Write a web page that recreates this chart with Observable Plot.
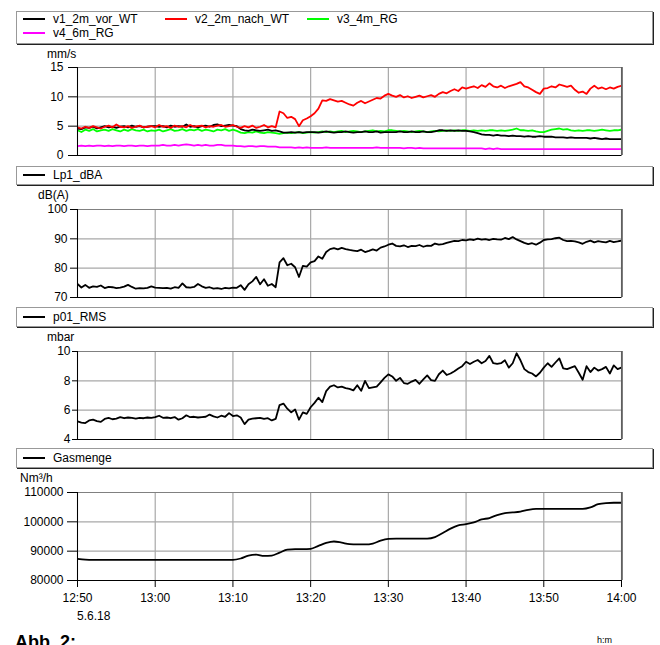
<!DOCTYPE html>
<html><head><meta charset="utf-8">
<script src="https://cdn.jsdelivr.net/npm/d3@7"></script>
<script src="https://cdn.jsdelivr.net/npm/@observablehq/plot@0.6"></script>
<style>
body{margin:0;background:#fff;}
#c{position:relative;width:660px;height:645px;overflow:hidden;font-family:"Liberation Sans",Arial,sans-serif;font-size:12px;color:#000;background:#fff;}
.t{position:absolute;line-height:1;white-space:nowrap;}
.box{position:absolute;left:16px;width:637px;border:1px solid #999;box-shadow:1px 1px 0 #222;box-sizing:border-box;background:#fff;}
.sw{position:absolute;width:22px;height:2px;}
.p{position:absolute;left:0;}
</style></head><body><div id="c"></div><script>
// ---- data ----
const xTicks = [0,10,20,30,40,50,60,70];            // minutes after 12:50
const xTickLabels = ["12:50","13:00","13:10","13:20","13:30","13:40","13:50","14:00"];
const dateLabel = "5.6.18";
const sampleStep = 0.5;   // minutes between samples of the measured series
const gasStep = 1;

const seriesNames = ["v1_2m_vor_WT","v2_2m_nach_WT","v3_4m_RG","v4_6m_RG"];
const seriesColors = ["#000000","#ff0000","#00ff00","#ff00ff"];

const v1 = [4.6,
 4.5,4.8,4.7,4.9,4.6,4.8,5.0,4.8,4.9,4.7,4.9,5.0,4.8,5.1,4.9,5.0,4.8,4.9,5.0,5.0,
 4.9,5.0,4.8,5.1,4.9,5.0,4.9,5.3,4.9,5.0,4.8,5.0,5.1,4.9,5.2,5.3,5.0,5.1,5.2,5.1,
 5.0,4.5,4.3,4.2,4.4,4.3,4.2,4.3,4.4,4.2,4.3,4.1,3.9,3.9,4.0,3.9,4.0,3.9,4.0,4.0,
 4.0,3.9,4.0,4.1,4.0,3.9,4.0,4.0,4.1,4.0,3.9,4.0,4.0,4.1,4.0,4.0,4.1,3.9,4.0,4.0,
 4.0,4.0,4.1,4.0,4.0,4.1,4.0,4.0,4.1,4.0,4.0,4.1,4.3,4.3,4.2,4.3,4.2,4.3,4.2,4.2,
 4.1,4.0,3.8,3.6,3.5,3.5,3.4,3.5,3.4,3.4,3.3,3.4,3.3,3.3,3.2,3.3,3.2,3.2,3.3,3.2,
 3.2,3.2,3.1,3.1,3.1,3.0,3.1,3.0,3.0,3.0,3.0,2.9,3.0,2.9,2.8,2.9,2.8,2.8,2.8,2.8];
const v2 = [4.8,
 4.6,4.9,4.7,5.0,4.8,4.6,4.9,5.1,4.8,5.3,4.9,4.8,5.0,4.7,4.9,5.1,4.8,4.9,5.0,4.8,
 5.2,4.9,5.0,4.7,5.1,4.9,5.0,4.8,5.2,4.9,5.0,5.1,4.8,5.0,4.9,5.1,5.2,4.9,5.0,5.2,
 4.9,4.7,5.0,4.8,5.1,4.7,4.9,5.2,4.8,5.0,4.8,7.5,7.2,6.4,6.6,6.2,5.0,6.0,6.3,6.7,
 7.2,8.0,9.4,9.3,9.6,9.4,9.2,9.3,9.0,8.7,8.5,9.0,9.3,8.9,9.2,9.5,9.8,9.7,10.2,10.5,
 10.2,10.0,10.3,9.9,10.1,9.8,10.0,10.2,9.9,10.1,10.3,10.0,10.5,10.8,10.6,11.0,11.3,11.0,11.6,11.4,
 11.6,11.8,11.5,12.0,11.7,12.3,11.8,11.6,11.9,11.5,11.8,12.0,12.2,12.5,11.8,11.6,11.2,10.8,10.5,11.4,
 11.5,11.8,11.6,12.1,11.9,11.7,11.9,11.2,10.7,10.9,10.5,11.4,11.9,11.4,11.6,11.3,11.6,11.4,11.7,11.9];
const v3 = [4.3,
 4.0,4.4,4.2,4.5,4.1,4.3,4.4,4.2,4.5,4.3,4.1,4.4,4.2,4.5,4.3,4.2,4.4,4.1,4.3,4.2,
 4.4,4.1,4.3,4.5,4.2,4.3,4.5,4.2,4.4,4.3,4.5,4.2,4.4,4.3,4.1,4.4,4.3,4.5,4.2,4.4,
 4.2,3.9,3.8,4.0,3.9,4.1,3.9,3.8,4.0,3.9,3.8,3.7,3.8,3.9,3.8,3.9,4.0,3.8,3.9,4.0,
 3.9,4.0,4.1,4.0,4.1,4.0,4.1,4.2,4.0,4.1,4.2,4.1,4.0,4.1,4.2,4.3,4.1,4.2,4.1,4.3,
 4.3,4.2,4.1,4.2,4.1,4.0,4.1,4.2,4.1,4.0,4.1,4.2,4.1,4.2,4.3,4.2,4.3,4.2,4.3,4.3,
 4.2,4.3,4.2,4.3,4.2,4.3,4.3,4.2,4.3,4.2,4.3,4.4,4.6,4.3,4.3,4.2,4.3,4.1,4.0,4.0,
 4.2,4.4,4.5,4.6,4.4,4.5,4.3,4.2,4.3,4.2,4.3,4.3,4.2,4.3,4.4,4.3,4.2,4.3,4.3,4.4];
const v4 = [1.6,
 1.7,1.6,1.7,1.6,1.7,1.7,1.6,1.7,1.6,1.7,1.7,1.6,1.7,1.7,1.6,1.7,1.7,1.6,1.7,1.7,
 1.7,1.8,1.7,1.7,1.8,1.7,1.8,1.9,1.8,1.7,1.8,1.7,1.8,1.7,1.7,1.8,1.8,1.7,1.7,1.7,
 1.6,1.6,1.5,1.6,1.6,1.5,1.6,1.6,1.5,1.5,1.5,1.4,1.4,1.4,1.4,1.3,1.4,1.3,1.4,1.3,
 1.3,1.3,1.3,1.4,1.3,1.3,1.3,1.3,1.3,1.3,1.3,1.3,1.3,1.3,1.3,1.3,1.4,1.3,1.3,1.3,
 1.3,1.3,1.3,1.2,1.3,1.3,1.2,1.3,1.2,1.2,1.2,1.2,1.2,1.2,1.2,1.2,1.2,1.2,1.2,1.2,
 1.2,1.2,1.2,1.2,1.1,1.2,1.1,1.2,1.1,1.1,1.1,1.1,1.1,1.1,1.1,1.1,1.1,1.1,1.1,1.1,
 1.1,1.1,1.1,1.1,1.1,1.1,1.1,1.1,1.1,1.1,1.1,1.1,1.1,1.1,1.1,1.1,1.1,1.1,1.1,1.1];

const lp1Name = "Lp1_dBA";
const lp1 = [74.6,
 73.4,74.3,73.3,73.8,73.6,74.1,73.2,73.6,73.5,73.2,73.4,73.7,74.3,73.6,73.0,73.2,73.1,73.3,73.8,73.4,
 73.3,73.2,73.3,73.0,73.5,73.3,74.8,73.5,73.4,73.6,74.6,73.8,73.3,73.5,73.0,73.2,72.9,73.3,73.1,73.4,
 73.3,74.2,72.6,74.5,75.5,77.0,74.5,76.2,74.0,74.6,73.5,82.0,83.4,81.0,81.5,80.3,77.0,80.8,80.5,82.0,
 82.4,84.0,83.2,85.5,86.5,86.8,86.4,86.9,86.5,86.2,86.0,85.8,86.3,85.5,85.9,86.4,86.0,87.0,87.4,88.0,
 88.4,87.6,87.4,87.8,87.2,87.6,87.5,87.9,87.3,87.7,87.6,88.4,88.0,88.2,88.6,89.0,89.3,89.2,89.6,89.5,
 89.8,89.6,90.1,89.7,89.9,89.6,90.0,89.8,89.7,90.3,89.9,90.6,89.8,89.2,88.6,88.2,88.5,88.0,88.7,89.6,
 89.8,89.9,90.2,90.4,89.6,89.2,89.3,89.1,88.8,88.3,89.0,89.4,88.8,89.2,89.0,88.8,89.3,88.9,89.1,89.4];

const p01Name = "p01_RMS";
const p01 = [5.23,
 5.15,5.12,5.30,5.35,5.25,5.20,5.40,5.47,5.38,5.42,5.52,5.45,5.50,5.47,5.42,5.48,5.45,5.50,5.47,5.52,
 5.62,5.48,5.50,5.45,5.53,5.35,5.45,5.65,5.52,5.55,5.50,5.53,5.55,5.70,5.58,5.50,5.62,5.55,5.80,5.60,
 5.65,5.50,5.05,5.35,5.42,5.45,5.48,5.40,5.45,5.30,5.40,6.35,6.45,6.10,5.85,6.05,5.35,5.85,5.75,6.20,
 6.50,6.85,6.55,7.30,7.60,7.70,7.55,7.60,7.50,7.45,7.35,7.70,7.32,8.00,7.50,7.55,7.60,7.90,8.20,8.44,
 8.30,8.00,8.20,7.85,7.80,7.95,8.07,7.80,8.10,8.37,8.05,8.00,8.45,8.70,8.40,8.50,8.65,8.84,9.00,9.30,
 9.15,9.30,9.42,9.20,9.35,9.70,9.20,9.15,9.20,9.40,8.90,9.20,9.88,9.40,8.80,8.60,8.50,8.30,8.55,8.90,
 9.20,8.95,9.25,9.53,8.85,8.80,8.90,9.00,8.55,8.07,9.00,8.60,8.90,8.70,8.80,8.95,8.50,9.05,8.80,8.90];

const gasName = "Gasmenge";
const gas = [87400,87100,
 87000,87000,87000,87000,87000,87000,87000,87000,87000,87000,87000,87000,87000,87000,87000,87000,87000,87000,87000,
 87500,88500,88800,88400,88500,89500,90500,90700,90700,90800,91800,92800,93300,92900,92400,92300,92300,92600,93600,94200,
 94300,94300,94300,94300,94300,
 94800,96200,97700,98800,99200,99800,100800,101300,102300,103000,103200,103500,104100,104400,104400,
 104400,104400,104400,104400,104400,
 104900,106000,106400,106500,106500];

const yTicks1 = [0,5,10,15];
const yTickLabels1 = ["0","5","10","15"];
const yTicks2 = [70,80,90,100];
const yTickLabels2 = ["70","80","90","100"];
const yTicks3 = [4,6,8,10];
const yTickLabels3 = ["4","6","8","10"];
const yTicks4 = [80000,90000,100000,110000];
const yTickLabels4 = ["80000","90000","100000","110000"];
const units = ["mm/s","dB(A)","mbar","Nm³/h"];

// ---- drawing ----
const C = document.getElementById("c");
const FONT = '"Liberation Sans", Arial, sans-serif';
function rows(vals, step){ return vals.map((v,i)=>({t:i*step, v})); }

function addText(txt, left, top, extra){
  const d = document.createElement("div");
  d.className = "t"; d.textContent = txt;
  d.style.left = left+"px"; d.style.top = top+"px";
  if (extra) Object.assign(d.style, extra);
  C.appendChild(d); return d;
}
function addBox(top, height){
  const b = document.createElement("div");
  b.className = "box"; b.style.top = top+"px"; b.style.height = height+"px";
  C.appendChild(b);
}
function legendItem(x, yc, color, label){
  const s = document.createElement("div");
  s.className = "sw"; s.style.left = x+"px"; s.style.top = (yc-1)+"px"; s.style.background = color;
  C.appendChild(s);
  addText(label, x+30, yc-6);
}

function panel(o){
  const mt = 8, mb = o.bottom ? 30 : 4, ph = 88;
  const marks = [
    Plot.ruleX(xTicks, {stroke:"#a8a8a8", strokeWidth:1.2}),
    Plot.ruleY(o.yTicks, {stroke:"#a8a8a8", strokeWidth:1.2}),
    ...o.series.map(s => Plot.line(rows(s.values, s.step), {x:"t", y:"v", stroke:s.color, strokeWidth:1.8, clip:true, curve:s.curve || "linear"})),
    Plot.frame({stroke:"#808080"}),
    Plot.ruleX([70], {stroke:"#555", strokeWidth:1.5, dx:0.5}),
    Plot.ruleY([o.yTicks[0]], {stroke:"#000"}),
    Plot.ruleX([0], {stroke:"#000"}),
    Plot.axisY({ticks:o.yTicks, tickSize:o.tickSize, tickPadding:o.tickPadding, fontSize:12, stroke:"#000", fill:"#000", label:null,
      tickFormat: d => o.yLabels[o.yTicks.indexOf(d)]})
  ];
  if (o.bottom) marks.push(Plot.axisX({ticks:xTicks, tickSize:7, tickPadding:6, fontSize:12, label:null,
      tickFormat: d => xTickLabels[xTicks.indexOf(d)]}));
  const p = Plot.plot({
    width:660, height:mt+ph+mb, marginLeft:77, marginRight:39, marginTop:mt, marginBottom:mb,
    x:{domain:[0,70], axis: o.bottom ? undefined : null},
    y:{domain:[o.yTicks[0], o.yTicks[o.yTicks.length-1]]},
    style:{fontFamily:FONT, fontSize:"12px", color:"#000", background:"transparent", overflow:"visible"},
    marks
  });
  p.classList.add("p");
  p.style.top = (o.top - mt)+"px";
  C.appendChild(p);
}

// legend 1
addBox(11, 33);
legendItem(23, 19, seriesColors[0], seriesNames[0]);
legendItem(165, 19, seriesColors[1], seriesNames[1]);
legendItem(307, 19, seriesColors[2], seriesNames[2]);
legendItem(23, 33, seriesColors[3], seriesNames[3]);
addText(units[0], 47, 48);
panel({top:67, yTicks:yTicks1, yLabels:yTickLabels1, tickSize:9, tickPadding:5,
  series:[v4,v3,v1,v2].map((vals,k)=>({values:vals, step:sampleStep, color:[seriesColors[3],seriesColors[2],seriesColors[0],seriesColors[1]][k]}))});

// legend 2 + panel 2
addBox(166, 19);
legendItem(23, 175, "#000", lp1Name);
addText(units[1], 38, 189);
panel({top:209, yTicks:yTicks2, yLabels:yTickLabels2, tickSize:7, tickPadding:3, series:[{values:lp1, step:sampleStep, color:"#000"}]});

// legend 3 + panel 3
addBox(307, 20);
legendItem(23, 317, "#000", p01Name);
addText(units[2], 47, 331);
panel({top:351, yTicks:yTicks3, yLabels:yTickLabels3, tickSize:5, tickPadding:2, series:[{values:p01, step:sampleStep, color:"#000"}]});

// legend 4 + panel 4
addBox(448, 20);
legendItem(23, 458, "#000", gasName);
addText(units[3], 20, 472);
panel({top:492, yTicks:yTicks4, yLabels:yTickLabels4, tickSize:10, tickPadding:4, bottom:true,
  series:[{values:gas, step:gasStep, color:"#000", curve:"monotone-x"}]});

addText(dateLabel, 77, 610);
addText("Abb. 2:", 15, 633, {fontSize:"18px", fontWeight:"bold"});
addText("h:m", 597, 636, {fontSize:"9px"});
</script></body></html>
